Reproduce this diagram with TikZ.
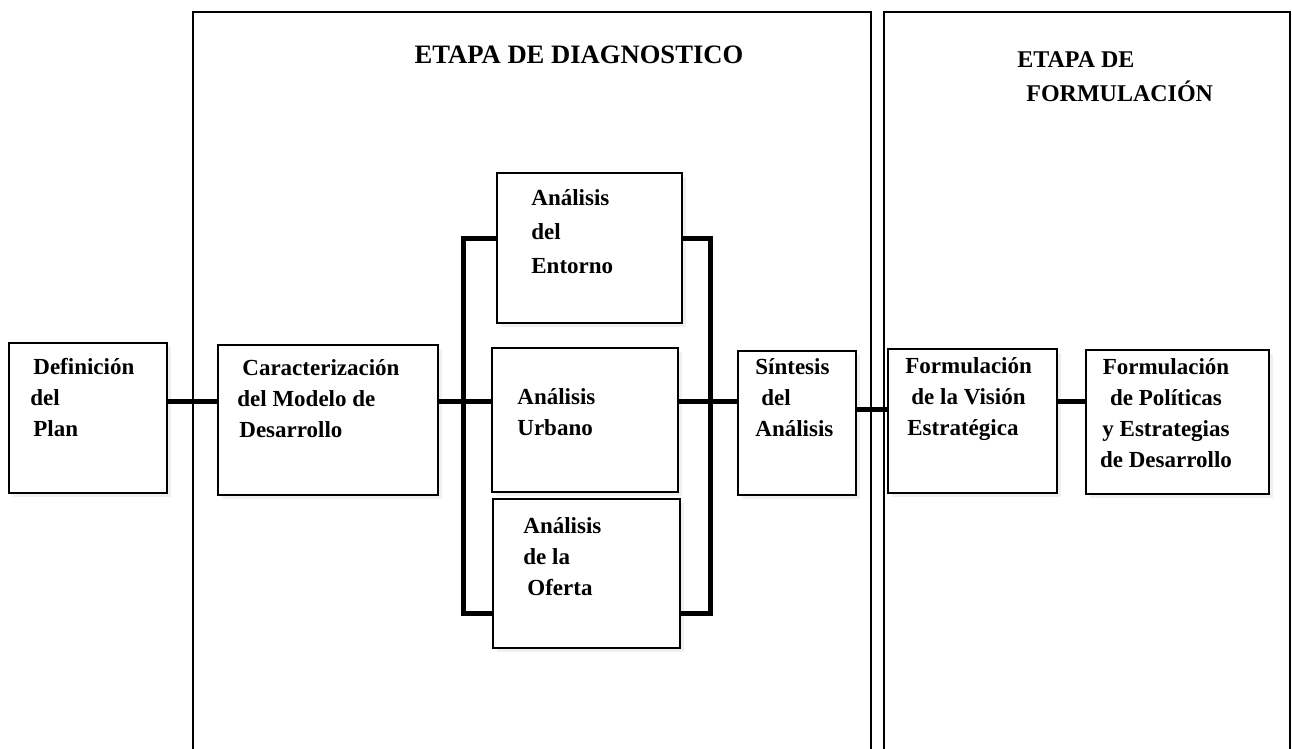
\documentclass[tikz,border=0pt]{standalone}
\usepackage{fontspec}
\setmainfont{Liberation Serif}
\usetikzlibrary{shadows}

\begin{document}
\begin{tikzpicture}[x=0.5pt,y=-0.5pt,
        box/.style={draw,fill=white,line width=1pt,inner sep=0pt,
          drop shadow={shadow xshift=2pt,shadow yshift=-2pt,opacity=.12}},
        txt/.style={inner sep=0pt,anchor=north west,align=left,
          font=\fontsize{11.5}{15.5}\selectfont\bfseries},
        title/.style={inner sep=0pt,font=\fontsize{13.3}{16.5}\selectfont\bfseries},
        link/.style={line width=2.5pt},
        frame/.style={line width=.9pt}]
        \useasboundingbox (0,0) rectangle (1292,749);

        % etapas
        \draw[frame] (193,749) |- (871,12) -- (871,749);
        \draw[frame] (884,749) |- (1290,12) -- (1290,749);
        \node[title] (diag) at (579,55) {ETAPA DE DIAGNOSTICO};
        \node[title,anchor=north west,align=left,font=\fontsize{12}{17}\selectfont\bfseries]
             (form) at (1017,43) {\strut ETAPA DE\\\hspace{4.5pt}FORMULACIÓN};

        % cajas
        \node[box,minimum width=79pt,minimum height=75pt] (def) at (88,418) {};
        \node[box,minimum width=110pt,minimum height=75pt] (car) at (328,420) {};
        \node[box,minimum width=92.5pt,minimum height=75pt] (ent) at (589.5,248) {};
        \node[box,minimum width=93pt,minimum height=72pt] (urb) at (585,420) {};
        \node[box,minimum width=93.5pt,minimum height=74.5pt] (ofe) at (586.5,573.5) {};
        \node[box,minimum width=59pt,minimum height=72pt] (sin) at (797,423) {};
        \node[box,minimum width=84.5pt,minimum height=72pt] (vis) at (972.5,421) {};
        \node[box,minimum width=91.5pt,minimum height=72pt] (pol) at (1177.5,422) {};

        \node[txt] (tdef) at (30,352) {\strut\hspace{1.5pt}Definición\\del\\\hspace{1.5pt}Plan};
        \node[txt] (tcar) at (237,353) {\strut\hspace{2.5pt}Caracterización\\del Modelo de\\\hspace{1pt}Desarrollo};
        \node[txt,font=\fontsize{11.5}{17}\selectfont\bfseries] (tent) at (531,181) {\strut Análisis\\del\\Entorno};
        \node[txt] (turb) at (517,382) {\strut Análisis\\Urbano};
        \node[txt] (tofe) at (523,511) {\strut Análisis\\de la\\\hspace{2pt}Oferta};
        \node[txt] (tsin) at (755,352) {\strut Síntesis\\\hspace{3pt}del\\Análisis};
        \node[txt] (tvis) at (905,351) {\strut Formulación\\\hspace{3pt}de la Visión\\\hspace{1pt}Estratégica};
        \node[txt,anchor=north,align=center] (tpol) at (1166,352) {\strut Formulación\\de Políticas\\y Estrategias\\de Desarrollo};

        % conectores
        \coordinate (row) at (0,401);
        \coordinate (row2) at (0,409);
        \coordinate (lt) at (463,239);
        \coordinate (lb) at (463,613);
        \coordinate (rt) at (710,239);
        \coordinate (rb) at (710,613);
        \draw[link] (def.east |- row) -- (car.west |- row);
        \draw[link] (car.east |- row) -- (urb.west |- row);
        \draw[link] (ent.west |- lt) -- (lt) -- (lb) -- (ofe.west |- lb);
        \draw[link] (ent.east |- rt) -- (rt) -- (rb) -- (ofe.east |- rb);
        \draw[link] (urb.east |- row) -- (sin.west |- row);
        \draw[link] (sin.east |- row2) -- (vis.west |- row2);
        \draw[link] (vis.east |- row) -- (pol.west |- row);
\end{tikzpicture}
\end{document}
